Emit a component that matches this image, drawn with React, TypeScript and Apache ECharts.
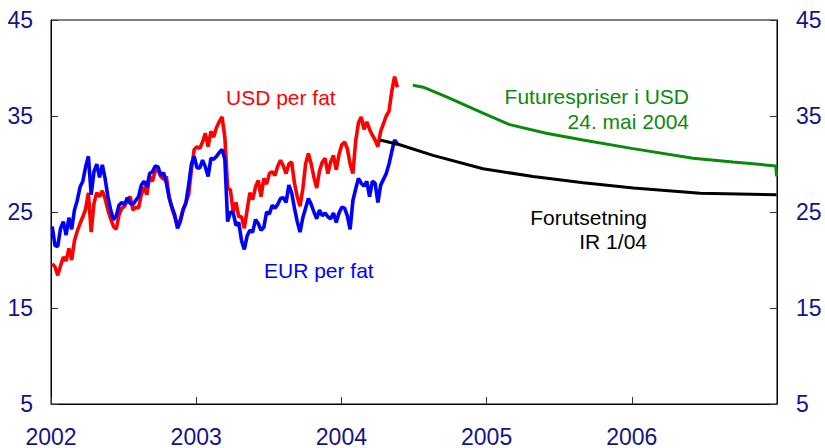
import React, { useEffect, useRef } from 'react';
import * as echarts from 'echarts';

// Weekly observations starting at this date (one value per week)
const weekStart = '2002-01-04';

const usdPerFat = [
  19.6, 19.3, 18.4, 19.4, 20.3, 19.9, 21.2, 20.0, 22.0, 23.0,
  23.8, 24.5, 25.3, 27.0, 22.9, 25.9, 27.0, 26.6, 27.2, 26.4,
  25.2, 24.3, 23.5, 23.2, 24.7, 25.4, 25.6, 26.2, 26.6, 25.2,
  25.5, 25.4, 26.8, 27.6, 26.8, 28.7, 28.2, 29.3, 29.4, 28.7,
  28.4, 28.7, 26.5, 25.4, 24.5, 23.6, 24.2, 25.3, 26.0, 26.8,
  29.4, 31.5, 31.8, 31.6, 32.3, 33.2, 31.8, 33.4, 32.8, 33.8,
  34.4, 34.9, 32.8, 27.5, 27.3, 25.0, 26.0, 24.5, 24.5, 23.3,
  25.2, 27.0, 26.3, 27.6, 28.3, 26.6, 28.5, 27.9, 29.0, 29.2,
  28.8, 29.8, 30.4, 29.8, 29.0, 30.0, 30.2, 28.0, 26.6, 25.6,
  27.4, 30.0, 31.1, 30.0, 28.6, 27.5, 29.3, 30.2, 30.6, 29.0,
  30.2, 30.9, 29.4, 31.0, 32.0, 32.3, 31.6, 30.0, 29.0, 32.4,
  34.3, 34.9, 33.6, 34.4, 33.6, 33.0, 32.5, 31.8, 33.4, 34.2,
  35.0, 35.5, 37.6, 39.1, 38.0,
];

const eurPerFat = [
  23.5, 21.5, 21.4, 23.3, 24.0, 22.6, 24.4, 23.2, 25.2, 26.2,
  27.6, 28.2, 29.7, 30.8, 26.8, 29.2, 30.0, 28.6, 29.9, 28.5,
  26.6, 25.2, 24.2, 24.6, 25.7, 26.0, 25.8, 26.5, 25.9, 25.8,
  26.2, 26.6, 27.8, 28.2, 27.6, 29.0, 29.2, 29.8, 29.7, 28.8,
  29.1, 28.0, 26.5, 25.5, 24.7, 23.3, 24.0, 25.2, 25.9, 27.8,
  30.0, 30.8, 29.6, 29.6, 30.4, 29.7, 28.7, 30.6, 30.5, 30.8,
  31.2, 31.5, 30.5, 24.0, 25.0, 24.9, 23.6, 23.9, 22.0, 21.1,
  22.5, 23.1, 22.9, 24.2, 23.8, 23.1, 23.4, 25.0, 24.8, 25.7,
  25.4, 25.8, 26.4, 26.5, 26.0, 27.8, 27.0, 25.4, 24.0, 22.9,
  24.4, 25.4, 26.4, 25.8, 25.0, 24.3, 25.2, 24.6, 24.9, 24.5,
  24.3, 24.9, 23.9, 24.9, 25.5, 25.4, 24.6, 23.2, 26.2, 27.4,
  28.5, 28.0, 27.7, 28.2, 26.6, 28.2, 28.0, 26.0, 27.8, 28.4,
  29.0, 30.0, 31.3, 32.5, 32.1,
];

const forutsetningDates = [
  '2004-04-07', '2004-05-27', '2004-08-19', '2004-12-23', '2005-04-28',
  '2005-09-01', '2006-01-05', '2006-06-22', '2006-12-31',
];
const forutsetningValues = [32.5, 32.0, 30.9, 29.5, 28.7, 28.05, 27.5, 26.95, 26.8];

const futuresDates = [
  '2004-06-29', '2004-07-25', '2004-09-22', '2004-12-23', '2005-02-28',
  '2005-05-31', '2005-08-31', '2006-01-04', '2006-06-04', '2006-09-12',
  '2006-12-29', '2006-12-31',
];
const futuresValues = [38.2, 38.0, 37.0, 35.3, 34.1, 33.2, 32.5, 31.6, 30.6, 30.2, 29.8, 28.7];

const yearLabels = ['2002', '2003', '2004', '2005', '2006'];

const FONT = '"Liberation Sans", Arial, Helvetica, sans-serif';
const NAVY = '#141486';

function toYear(ms: number): number {
  const d = new Date(ms);
  const y = d.getUTCFullYear();
  const a = Date.UTC(y, 0, 1);
  const b = Date.UTC(y + 1, 0, 1);
  return y + (ms - a) / (b - a);
}
function dateToYear(s: string): number {
  const [y, m, d] = s.split('-').map(Number);
  return toYear(Date.UTC(y, m - 1, d));
}
function weekly(values: number[]): [number, number][] {
  const [y, m, d] = weekStart.split('-').map(Number);
  const start = Date.UTC(y, m - 1, d);
  return values.map((v, i) => [toYear(start + i * 7 * 86400000), v]);
}
function pairs(dates: string[], values: number[]): [number, number][] {
  return dates.map((d, i) => [dateToYear(d), values[i]]);
}

export default function App() {
  const ref = useRef<HTMLDivElement>(null);
  useEffect(() => {
    if (!ref.current) return;
    const chart = echarts.init(ref.current, null, { renderer: 'svg' });
    const yAxisBase = {
      type: 'value',
      min: 5,
      max: 45,
      interval: 10,
      splitLine: { show: false },
      axisLine: { show: true, lineStyle: { color: '#000', width: 1 } },
      axisTick: { show: true, inside: true, length: 7, lineStyle: { color: '#333' } },
    };
    chart.setOption({
      animation: false,
      backgroundColor: '#fff',
      grid: {
        left: 51,
        top: 20,
        width: 726,
        height: 384,
        show: true,
        borderColor: '#000',
        borderWidth: 1,
        containLabel: false,
      },
      xAxis: {
        type: 'value',
        min: 2002,
        max: 2007,
        interval: 1,
        splitLine: { show: false },
        axisLine: { show: true, lineStyle: { color: '#000', width: 1 } },
        axisTick: { show: true, inside: true, length: 7, lineStyle: { color: '#333' } },
        axisLabel: {
          color: NAVY,
          fontSize: 23,
          fontFamily: FONT,
          margin: 21,
          showMaxLabel: false,
          formatter: (v: number) => (yearLabels.includes(String(Math.round(v))) ? String(Math.round(v)) : ''),
        },
      },
      yAxis: [
        {
          ...yAxisBase,
          position: 'left',
          axisLabel: { color: NAVY, fontSize: 23, fontFamily: FONT, margin: 18 },
        },
        {
          ...yAxisBase,
          position: 'right',
          axisLabel: { color: NAVY, fontSize: 23, fontFamily: FONT, margin: 19 },
        },
      ],
      series: [
        {
          name: 'USD per fat',
          type: 'line',
          data: weekly(usdPerFat),
          showSymbol: false,
          lineStyle: { color: '#ff0000', width: 3.6 },
          itemStyle: { color: '#ff0000' },
        },
        {
          name: 'EUR per fat',
          type: 'line',
          data: weekly(eurPerFat),
          showSymbol: false,
          lineStyle: { color: '#0000ff', width: 3.6 },
          itemStyle: { color: '#0000ff' },
        },
        {
          name: 'Forutsetning IR 1/04',
          type: 'line',
          data: pairs(forutsetningDates, forutsetningValues),
          showSymbol: false,
          lineStyle: { color: '#000000', width: 3 },
          itemStyle: { color: '#000000' },
        },
        {
          name: 'Futurespriser i USD',
          type: 'line',
          data: pairs(futuresDates, futuresValues),
          showSymbol: false,
          lineStyle: { color: '#0a8a0a', width: 3 },
          itemStyle: { color: '#0a8a0a' },
        },
      ],
      graphic: [
        {
          type: 'text',
          x: 226,
          y: 97,
          style: { text: 'USD per fat', fill: '#ff0000', font: `21px ${FONT}`, align: 'left', verticalAlign: 'middle' },
        },
        {
          type: 'text',
          x: 264,
          y: 270.5,
          style: { text: 'EUR per fat', fill: '#0000ff', font: `21px ${FONT}`, align: 'left', verticalAlign: 'middle' },
        },
        {
          type: 'text',
          x: 689,
          y: 109,
          style: {
            text: 'Futurespriser i USD\n24. mai 2004',
            fill: '#0a8a0a',
            font: `21px ${FONT}`,
            align: 'right',
            verticalAlign: 'middle',
            lineHeight: 24.5,
          },
        },
        {
          type: 'text',
          x: 647,
          y: 229,
          style: {
            text: 'Forutsetning\nIR 1/04',
            fill: '#000000',
            font: `21px ${FONT}`,
            align: 'right',
            verticalAlign: 'middle',
            lineHeight: 24,
          },
        },
      ],
    });
    return () => chart.dispose();
  }, []);
  return <div ref={ref} style={{ position: 'absolute', left: 0, top: 0, width: 825, height: 448 }} />;
}
